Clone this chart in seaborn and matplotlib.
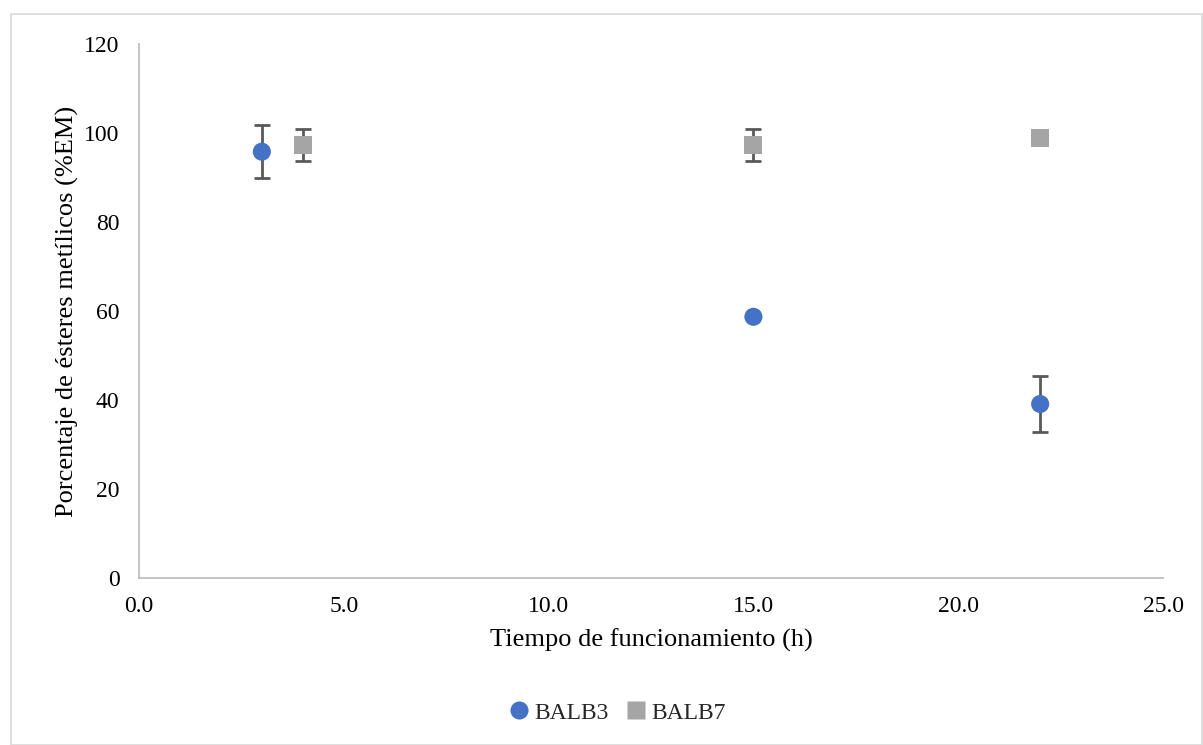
import matplotlib
matplotlib.use("Agg")
import matplotlib.pyplot as plt
import pandas as pd
import seaborn as sns

# values
series_names = ["BALB3", "BALB7"]
balb3_time = [3.0, 15.0, 22.0]
balb3_pct = [95.8, 58.7, 39.1]
balb3_err = [5.9, 0.0, 6.3]
balb7_time = [4.0, 15.0, 22.0]
balb7_pct = [97.3, 97.3, 98.9]
balb7_err = [3.6, 3.6, 0.0]

x_ticks = [0.0, 5.0, 10.0, 15.0, 20.0, 25.0]
y_ticks = [0, 20, 40, 60, 80, 100, 120]

colors = {"BALB3": "#4472C4", "BALB7": "#A5A5A5"}
markers = {"BALB3": "o", "BALB7": "s"}

df = pd.DataFrame({
    "tiempo": balb3_time + balb7_time,
    "pct": balb3_pct + balb7_pct,
    "err": balb3_err + balb7_err,
    "serie": [series_names[0]] * len(balb3_time) + [series_names[1]] * len(balb7_time),
})

sns.set_theme(style="white")
plt.rcParams["font.family"] = ["Liberation Serif", "DejaVu Serif"]

fig = plt.figure(figsize=(12.03, 7.45), dpi=100)
ax = fig.add_axes([0.1155, 0.2242, 0.8513, 0.7167])

# error bars first so markers sit on top
for name, sub in df.groupby("serie"):
    sub = sub[sub["err"] > 0]
    ax.errorbar(sub["tiempo"], sub["pct"], yerr=sub["err"], fmt="none",
                ecolor="#595959", elinewidth=2, capsize=6, capthick=2, zorder=2)

sns.scatterplot(data=df, x="tiempo", y="pct", hue="serie", style="serie",
                palette=colors, markers=markers, s=170, edgecolor="none",
                ax=ax, zorder=3)

ax.set_xlim(0, 25)
ax.set_ylim(0, 120)
ax.set_xticks(x_ticks)
ax.set_xticklabels([f"{t:.1f}" for t in x_ticks])
ax.set_yticks(y_ticks)
ax.tick_params(axis="both", length=0, labelsize=17, colors="black")
ax.tick_params(axis="y", pad=14)
ax.tick_params(axis="x", pad=13)
for side in ["top", "right"]:
    ax.spines[side].set_visible(False)
for side in ["left", "bottom"]:
    ax.spines[side].set_color("#BFBFBF")
    ax.spines[side].set_linewidth(1.3)

ax.set_xlabel("Tiempo de funcionamiento (h)", fontsize=19, labelpad=8, color="black")
ax.set_ylabel("Porcentaje de ésteres metílicos (%EM)", fontsize=19, labelpad=4, color="black")

handles, labels = ax.get_legend_handles_labels()
ax.legend_.remove()
fig.legend(handles, labels, loc="center", bbox_to_anchor=(0.51, 0.043), ncol=2,
           frameon=False, fontsize=17, handletextpad=-0.1, columnspacing=0.4,
           markerscale=1.0, handlelength=1.5)

# outer chart frame
fig.patches.append(plt.Rectangle((0.009, 0.0), 0.99, 0.981, transform=fig.transFigure,
                                 fill=False, edgecolor="#D9D9D9", linewidth=1.2))

fig.savefig("out.png", dpi=100)
